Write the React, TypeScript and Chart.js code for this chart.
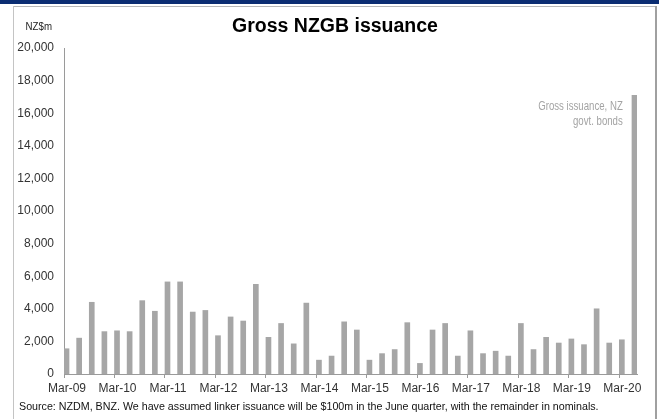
import React, { useEffect, useRef } from "react";
import { Chart, registerables } from "chart.js";

Chart.register(...registerables);

const quarters = [
  "Mar-09", "Jun-09", "Sep-09", "Dec-09",
  "Mar-10", "Jun-10", "Sep-10", "Dec-10",
  "Mar-11", "Jun-11", "Sep-11", "Dec-11",
  "Mar-12", "Jun-12", "Sep-12", "Dec-12",
  "Mar-13", "Jun-13", "Sep-13", "Dec-13",
  "Mar-14", "Jun-14", "Sep-14", "Dec-14",
  "Mar-15", "Jun-15", "Sep-15", "Dec-15",
  "Mar-16", "Jun-16", "Sep-16", "Dec-16",
  "Mar-17", "Jun-17", "Sep-17", "Dec-17",
  "Mar-18", "Jun-18", "Sep-18", "Dec-18",
  "Mar-19", "Jun-19", "Sep-19", "Dec-19",
  "Mar-20", "Jun-20",
];

const issuance = [
  1550, 2200, 4400, 2600,
  2650, 2600, 4500, 3850,
  5650, 5650, 3800, 3900,
  2350, 3500, 3250, 5500,
  2250, 3100, 1850, 4350,
  850, 1100, 3200, 2700,
  850, 1250, 1500, 3150,
  650, 2700, 3100, 1100,
  2650, 1250, 1400, 1100,
  3100, 1500, 2250, 1900,
  2150, 1800, 4000, 1900,
  2100, 17100,
];

const xTickLabels = [
  "Mar-09", "Mar-10", "Mar-11", "Mar-12", "Mar-13", "Mar-14",
  "Mar-15", "Mar-16", "Mar-17", "Mar-18", "Mar-19", "Mar-20",
];

const yMin = 0;
const yMax = 20000;
const yStep = 2000;

const FONT = "'Liberation Sans', Arial, sans-serif";
const TEXT = "#333333";
const AXIS = "#9a9a9a";
const BAR = "#a6a6a6";

export default function App() {
  const canvasRef = useRef<HTMLCanvasElement | null>(null);

  useEffect(() => {
    const canvas = canvasRef.current;
    if (!canvas) return;
    const tickIdx = xTickLabels.map((l) => quarters.indexOf(l));
    const chart = new Chart(canvas, {
      type: "bar",
      data: {
        datasets: [
          {
            label: "Gross issuance, NZ govt. bonds",
            data: issuance.map((v, i) => ({ x: i + 0.2, y: v })),
            backgroundColor: BAR,
            borderWidth: 0,
            barThickness: 5,
          },
        ],
      },
      options: {
        animation: false,
        responsive: false,
        maintainAspectRatio: false,
        devicePixelRatio: 1,
        layout: { padding: { left: 0, right: 22, top: 48, bottom: 0 } },
        plugins: {
          legend: { display: false },
          tooltip: { enabled: false },
          title: { display: false },
        },
        scales: {
          x: {
            type: "linear",
            min: 0,
            max: 45.4,
            offset: false,
            afterBuildTicks: (s: any) => {
              s.ticks = tickIdx.map((v) => ({ value: v }));
            },
            afterFit: (s: any) => {
              s.height = 45;
            },
            grid: {
              display: true,
              offset: false,
              drawOnChartArea: false,
              drawTicks: true,
              tickLength: 4,
              color: AXIS,
            },
            border: { display: true, color: AXIS },
            ticks: {
              autoSkip: false,
              maxRotation: 0,
              minRotation: 0,
              padding: 3,
              labelOffset: 3,
              color: TEXT,
              font: { family: FONT, size: 12 },
              callback: (v: any) => quarters[Math.round(Number(v))],
            },
          },
          y: {
            min: yMin,
            max: yMax,
            afterFit: (s: any) => {
              s.width = 64;
            },
            grid: { display: false, drawTicks: false },
            border: { display: true, color: AXIS },
            ticks: {
              stepSize: yStep,
              padding: 10,
              color: TEXT,
              font: { family: FONT, size: 12 },
              callback: (v: any) => Number(v).toLocaleString("en-US"),
            },
          },
        },
      },
    });
    return () => chart.destroy();
  }, []);

  return (
    <div
      style={{
        position: "fixed",
        left: 0,
        top: 0,
        width: 659,
        height: 419,
        background: "#ffffff",
        overflow: "hidden",
        fontFamily: FONT,
      }}
    >
      <canvas
        ref={canvasRef}
        width={659}
        height={419}
        style={{ position: "absolute", left: 0, top: 0, width: 659, height: 419 }}
      />
      <div style={{ position: "absolute", left: 0, top: 0, width: 659, height: 4, background: "#0b2d72" }} />
      <div style={{ position: "absolute", left: 13, top: 6, width: 643, height: 1, background: "#b8b8b8" }} />
      <div style={{ position: "absolute", left: 13, top: 6, width: 1, height: 413, background: "#c4c4c4" }} />
      <div style={{ position: "absolute", left: 655, top: 6, width: 2, height: 413, background: "#a0a0a0" }} />
      <div
        style={{
          position: "absolute",
          left: 335,
          top: 16,
          transform: "translateX(-50%)",
          fontSize: 19.5,
          fontWeight: "bold",
          lineHeight: 1,
          color: "#000",
          whiteSpace: "nowrap",
        }}
      >
        Gross NZGB issuance
      </div>
      <div
        style={{
          position: "absolute",
          right: 659 - 52,
          top: 21,
          fontSize: 11,
          lineHeight: 1,
          color: "#222",
          whiteSpace: "nowrap",
          transform: "scaleX(0.88)",
          transformOrigin: "right center",
        }}
      >
        NZ$m
      </div>
      <div
        style={{
          position: "absolute",
          right: 659 - 623,
          top: 99,
          fontSize: 12.5,
          lineHeight: "15px",
          color: "#a3a3a3",
          textAlign: "right",
          whiteSpace: "nowrap",
          transform: "scaleX(0.77)",
          transformOrigin: "right center",
        }}
      >
        Gross issuance, NZ
        <br />
        govt. bonds
      </div>
      <div
        style={{
          position: "absolute",
          left: 19,
          top: 401,
          fontSize: 10.7,
          lineHeight: 1,
          color: "#111",
          whiteSpace: "nowrap",
        }}
      >
        Source: NZDM, BNZ.  We have assumed linker issuance will be $100m in the June quarter, with the remainder in nominals.
      </div>
    </div>
  );
}
